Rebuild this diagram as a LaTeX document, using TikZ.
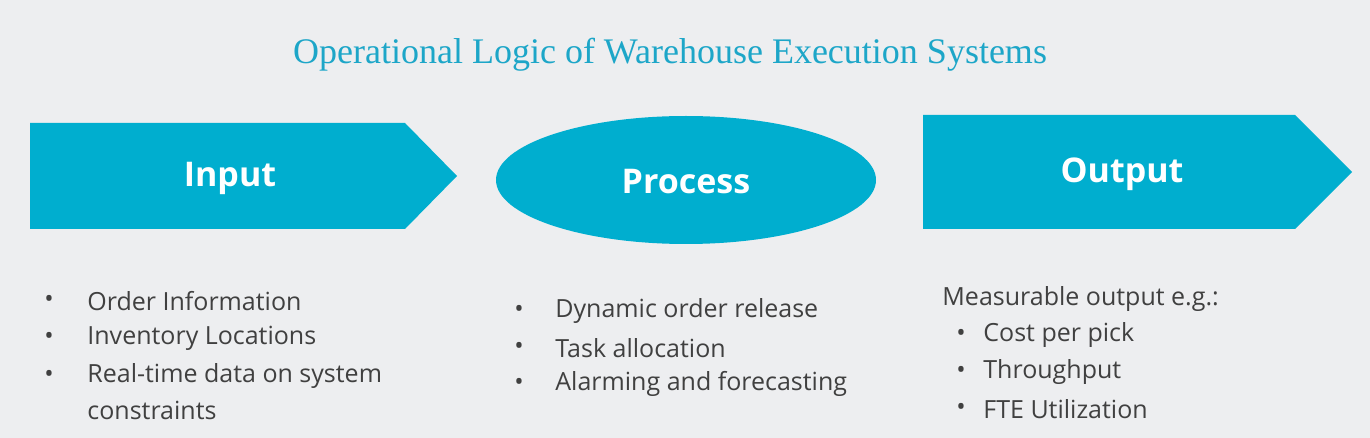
\documentclass[tikz,border=0pt]{standalone}
\usepackage{fontspec}
\setmainfont{Open Sans}
\newfontfamily\titlefont{Liberation Serif}
\usetikzlibrary{shapes.geometric}
\definecolor{bg}{HTML}{EDEEF0}
\definecolor{teal}{HTML}{00AECF}
\definecolor{ttl}{HTML}{1DA6C8}
\definecolor{txt}{HTML}{404040}
\tikzset{
  shapefill/.style={fill=teal,draw=none},
  head/.style={text=white,font=\bfseries\fontsize{17}{20}\selectfont},
  item/.style={anchor=west,text=txt,font=\fontsize{12.5}{15}\selectfont,inner sep=0pt},
}
\begin{document}
\begin{tikzpicture}[x=0.5pt,y=-0.5pt]
\fill[bg] (0,0) rectangle (1370,438);
\useasboundingbox (0,0) rectangle (1370,438);
\node[text=ttl,font=\titlefont\fontsize{18}{22}\selectfont] (title) at (670,55) {Operational Logic of Warehouse Execution Systems};
\fill[shapefill] (30,123) -- (405,123) -- (457,176) -- (405,229) -- (30,229) -- cycle;
\node[head] (in) at (230,178) {Input};
\node[shapefill,ellipse,minimum width=190pt,minimum height=64pt,inner sep=0pt] (proc) at (686,180) {};
\node[head] (proct) at (686,182) {Process};
\fill[shapefill] (923,115) -- (1295,115) -- (1352,172) -- (1295,229) -- (923,229) -- cycle;
\node[head] (out) at (1122,174) {Output};
% input list
\node[item] (b1) at (44,301) {•}; \node[item] (i1) at (87,301) {Order Information};
\node[item] (b2) at (44,338) {•}; \node[item] (i2) at (87,338) {Inventory Locations};
\node[item] (b3) at (44,376) {•}; \node[item] (i3) at (87,376) {Real-time data on system};
\node[item] (i4) at (87,410) {constraints};
% process list
\node[item] (p1b) at (514,311) {•}; \node[item] (p1) at (555,311) {Dynamic order release};
\node[item] (p2b) at (514,348) {•}; \node[item] (p2) at (555,348) {Task allocation};
\node[item] (p3b) at (514,384) {•}; \node[item] (p3) at (555,384) {Alarming and forecasting};
% output list
\node[item] (o0) at (942,299) {Measurable output e.g.:};
\node[item] (o1b) at (956,335) {•}; \node[item] (o1) at (983,335) {Cost per pick};
\node[item] (o2b) at (956,372) {•}; \node[item] (o2) at (983,372) {Throughput};
\node[item] (o3b) at (956,409) {•}; \node[item] (o3) at (983,409) {FTE Utilization};
\end{tikzpicture}
\end{document}
